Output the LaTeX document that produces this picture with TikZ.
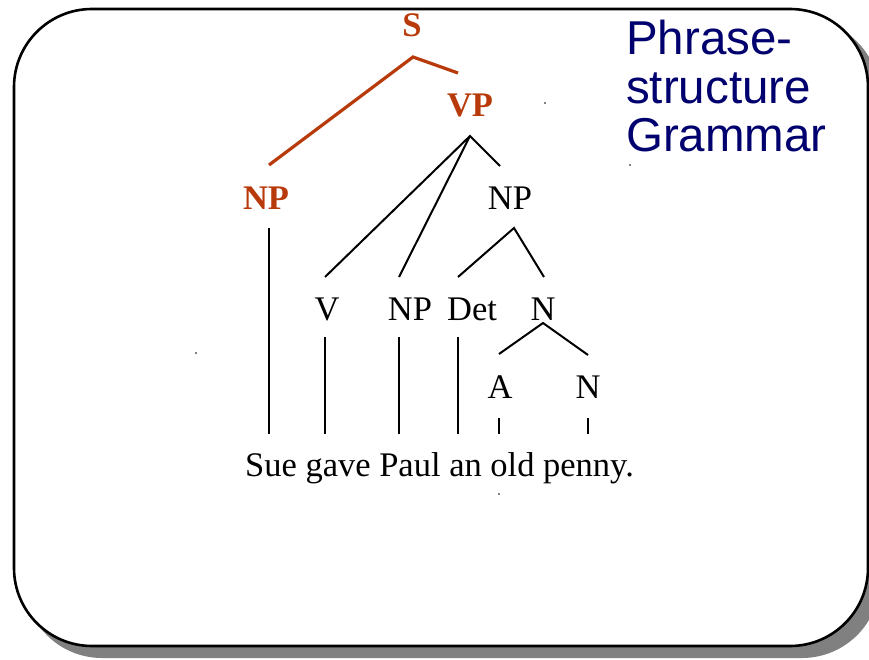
\documentclass[tikz,border=0pt]{standalone}
\usepackage{fontspec}
\setmainfont{Liberation Serif}
\newfontfamily\titlefont{Liberation Sans}
\definecolor{treered}{RGB}{184,58,10}
\definecolor{titleblue}{RGB}{0,0,110}
\definecolor{shadowgray}{RGB}{128,128,128}
\begin{document}
\begin{tikzpicture}[x=1pt,y=-1pt,
  lbl/.style={anchor=base,inner sep=0pt,font=\fontsize{34.5}{40}\selectfont},
  redlbl/.style={lbl,text=treered,font=\fontsize{34.5}{40}\selectfont\bfseries},
  branch/.style={line width=2pt,black},
  redbranch/.style={line width=3.2pt,treered},
  strayd/.style={fill=black,inner sep=0pt,minimum size=1.6pt,circle}]
\useasboundingbox (0,0) rectangle (869,660);
% shadow and frame
\fill[shadowgray,rounded corners=78pt] (24,19) rectangle (880,658);
\draw[line width=2.6pt,fill=white,rounded corners=78pt] (14,9) rectangle (868,646);
% title
\node[anchor=base west,inner sep=0pt,align=left,text=titleblue,
      font=\titlefont\fontsize{47.5}{48.5}\selectfont] (title) at (626,152)
  {Phrase-\\structure\\Grammar};
% labels
\node[redlbl] (S) at (412,37) {S};
\node[redlbl] (VP) at (470,117) {VP};
\node[redlbl] (NPs) at (266,210) {NP};
\node[lbl] (NPo) at (510,210) {NP};
\node[lbl] (V) at (327,320) {V};
\node[lbl] (NPi) at (410,320) {NP};
\node[lbl] (Det) at (472,320) {Det};
\node[lbl] (Nb) at (543,320) {N};
\node[lbl] (A) at (500,398) {A};
\node[lbl] (Nl) at (588,398) {N};
\node[lbl] (sent) at (439.5,476) {Sue gave Paul an old penny.};
% branch endpoints
\coordinate (S-b) at (413,57);
\coordinate (VP-t) at (458,73);
\coordinate (NPs-t) at (269,165);
\coordinate (NPs-b) at (269,228);
\coordinate (VP-b) at (470,136);
\coordinate (VPr) at (500,166);
\coordinate (V-t) at (325,277);
\coordinate (NPi-t) at (399,277);
\coordinate (NPo-b) at (514,228);
\coordinate (Det-t) at (458,277);
\coordinate (Nb-t) at (544,277);
\coordinate (Nb-b) at (543,323);
\coordinate (A-t) at (499,354);
\coordinate (Nl-t) at (588,355);
\coordinate (V-b) at (325,337);
\coordinate (NPi-b) at (399,337);
\coordinate (Det-b) at (458,337);
\coordinate (A-b) at (499,418);
\coordinate (Nl-b) at (588,418);
\coordinate (w1) at (269,434);
\coordinate (w2) at (325,434);
\coordinate (w3) at (399,434);
\coordinate (w4) at (458,434);
\coordinate (w5) at (499,434);
\coordinate (w6) at (588,434);
% red branches
\draw[redbranch] (NPs-t) -- (S-b) -- (VP-t);
% black branches
\draw[branch] (V-t) -- (VP-b) -- (VPr);
\draw[branch] (NPi-t) -- (VP-b);
\draw[branch] (Det-t) -- (NPo-b) -- (Nb-t);
\draw[branch] (A-t) -- (Nb-b) -- (Nl-t);
\draw[branch] (NPs-b) -- (w1);
\draw[branch] (V-b) -- (w2);
\draw[branch] (NPi-b) -- (w3);
\draw[branch] (Det-b) -- (w4);
\draw[branch] (A-b) -- (w5);
\draw[branch] (Nl-b) -- (w6);
% stray dots
\node[strayd] (d1) at (545,103) {};
\node[strayd] (d2) at (630,165) {};
\node[strayd] (d3) at (196,353) {};
\node[strayd] (d4) at (499,494) {};
\end{tikzpicture}
\end{document}
